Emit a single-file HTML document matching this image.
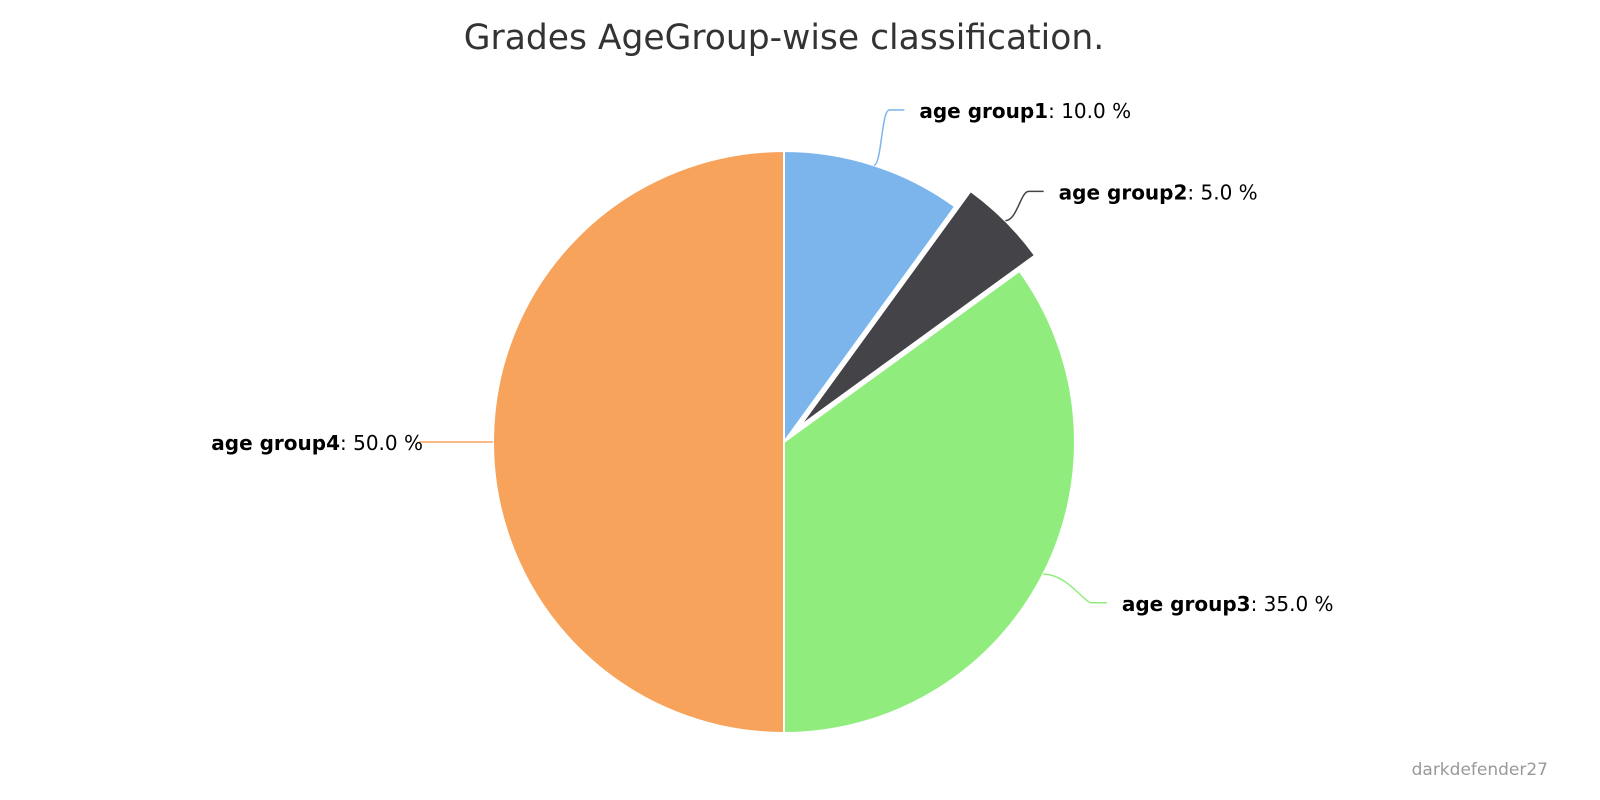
<!DOCTYPE html>
<html><head><meta charset="utf-8"><style>
body{margin:0;background:#fff;}
svg{display:block;font-family:"DejaVu Sans","Liberation Sans",sans-serif;}
</style></head><body>
<svg id="chart" width="1600" height="800">
<text x="784" y="49" text-anchor="middle" font-size="34.5" fill="#333">Grades AgeGroup-wise classification.</text>
<text x="1548" y="775" text-anchor="end" font-size="17" fill="#999">darkdefender27</text>
<g id="slices"></g>
<g id="labels"></g>
</svg>
<script>
const categories = ["age group1","age group2","age group3","age group4"];
const values = [10.0, 5.0, 35.0, 50.0];
const colors = ["#7cb5ec","#434348","#90ed7d","#f7a35c"];
const sliced = [false,true,false,false];
const nudgeX = [0,-12,4,0];
const nudgeY = [0,6,6,0];
const cx=784, cy=442, R=291, off=22;
const NS="http://www.w3.org/2000/svg";
const gS=document.getElementById('slices'), gL=document.getElementById('labels');
const total=values.reduce((a,b)=>a+b,0);
let ang=0;
function pt(a,r,ox,oy){return [ox+r*Math.sin(a), oy-r*Math.cos(a)];}
values.forEach((v,i)=>{
  const a0=ang, a1=ang+v/total*2*Math.PI; ang=a1;
  const mid=(a0+a1)/2;
  let ox=cx, oy=cy;
  if(sliced[i]){ox+=off*Math.sin(mid); oy-=off*Math.cos(mid);}
  const p0=pt(a0,R,ox,oy), p1=pt(a1,R,ox,oy);
  const large=(a1-a0)>Math.PI?1:0;
  const path=document.createElementNS(NS,'path');
  path.setAttribute('d',`M${ox},${oy} L${p0[0]},${p0[1]} A${R},${R} 0 ${large} 1 ${p1[0]},${p1[1]} Z`);
  path.setAttribute('fill',colors[i]);
  path.setAttribute('stroke','#fff');
  path.setAttribute('stroke-width','2');
  path.setAttribute('stroke-linejoin','round');
  
  
  gS.appendChild(path);
  const right=Math.sin(mid)>=0;
  const e=pt(mid,R,ox,oy);
  const lp=pt(mid,R+50,ox,oy);
  let ly=lp[1]+nudgeY[i];
  if(i===0) ly=110;
  const lx = (right ? Math.max(lp[0]+15, e[0]+30) : lp[0]-20) + nudgeX[i];
  const bx = right ? lx-15 : lx+15;
  const line=document.createElementNS(NS,'path');
  line.setAttribute('d',`M${e[0]},${e[1]} C${(e[0]+bx)/2},${e[1]} ${bx-8},${ly} ${bx},${ly} L${lx},${ly}`);
  if(!right) line.setAttribute('d',`M${e[0]},${e[1]} L${lx-4},${ly}`);
  line.setAttribute('fill','none');
  line.setAttribute('stroke',colors[i]);
  line.setAttribute('stroke-width','1.5');
  
  
  gL.appendChild(line);
  const t=document.createElementNS(NS,'text');
  t.setAttribute('x', right? lx+15 : lx);
  t.setAttribute('y', ly+8);
  t.setAttribute('font-size','20');
  t.setAttribute('text-anchor', right?'start':'end');
  
  
  t.innerHTML=`<tspan font-weight="bold">${categories[i]}</tspan>: ${v.toFixed(1)} %`;
  gL.appendChild(t);
});
</script>
</body></html>
